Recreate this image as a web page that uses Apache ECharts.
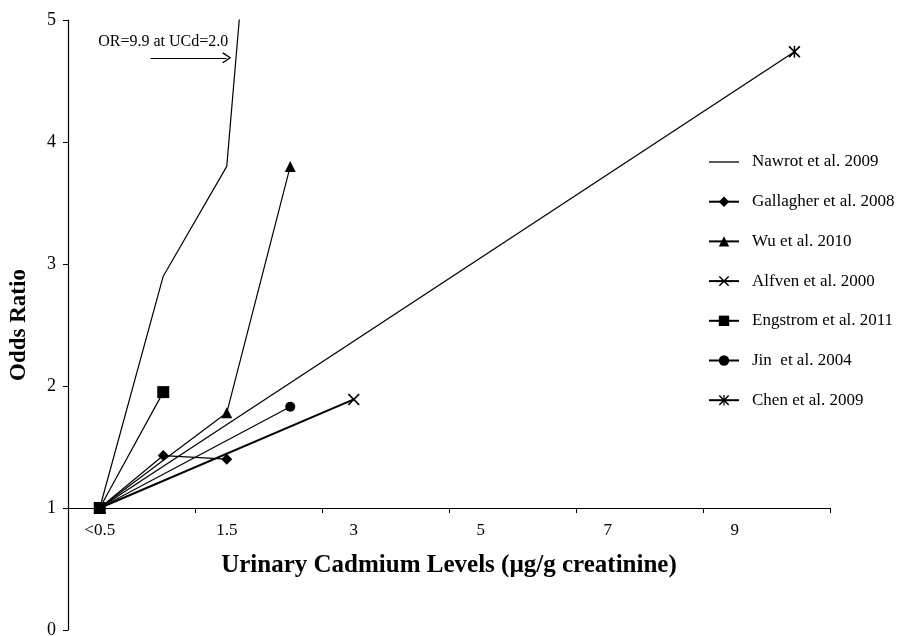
<!DOCTYPE html>
<html><head><meta charset="utf-8">
<script src="https://cdn.jsdelivr.net/npm/echarts@6/dist/echarts.min.js"></script>
<style>html,body{margin:0;background:#fff}#c{width:915px;height:636px}</style>
</head><body><div id="c"></div>
<script>
// x positions are category slots of the original axis: 0 => "<0.5", 1 => "1.5", 2 => "3", ...
const tickLabels = ['<0.5', '1.5', '3', '5', '7', '9'];
const labelPositions = [0, 1, 2, 3, 4, 5];
const tickPositions = [0.75, 1.75, 2.75, 3.75, 4.75, 5.75];
const yTicks = [0, 1, 2, 3, 4, 5];

const nawrot    = [[0, 1], [0.5, 2.9], [1, 3.8], [1.5, 9.9]];
const gallagher = [[0, 1], [0.5, 1.43], [1, 1.40]];
const wu        = [[0, 1], [1, 1.78], [1.5, 3.8]];
const alfven    = [[0, 1], [2, 1.89]];
const engstrom  = [[0, 1], [0.5, 1.95]];
const jin       = [[0, 1], [1.5, 1.83]];
const chen      = [[0, 1], [5.47, 4.74]];
const arrowLine = [[0.4, 4.69], [1.0, 4.69]];
const annotationPos = [0.5, 4.82];
const annotation = 'OR=9.9 at UCd=2.0';

const FONT = 'Liberation Serif';
const X_PATH = 'path://M0,1 L1,0 L5,4 L9,0 L10,1 L6,5 L10,9 L9,10 L5,6 L1,10 L0,9 L4,5 Z';
const STAR_PATH = 'path://M0,1 L1,0 L5,4 L9,0 L10,1 L6,5 L10,9 L9,10 L5,6 L1,10 L0,9 L4,5 Z M4.4,0 L5.6,0 L5.6,10 L4.4,10 Z';
const OPEN_ARROW = 'path://M5,0 L10,8 L9,9 L5,2.2 L1,9 L0,8 Z';
const PLAIN_LINE = 'path://M0,0 L30,0 L30,1.3 L0,1.3 Z';

function mk(name, data, symbol, size, width, z) {
  return {
    name, type: 'line', data, symbol, symbolSize: size,
    showSymbol: symbol !== 'none',
    lineStyle: { color: '#000', width: width || 1.2 },
    itemStyle: { color: '#000' },
    emphasis: { disabled: true },
    animation: false,
    clip: true,
    z: z || 2
  };
}

const series = [
  mk('Nawrot et al. 2009', nawrot, 'none', 0, 1.2),
  mk('Gallagher et al. 2008', gallagher, 'diamond', 11, 1.2),
  mk('Wu et al. 2010', wu, 'triangle', 11, 1.2),
  mk('Alfven et al. 2000', alfven, X_PATH, 12, 2),
  mk('Engstrom et al. 2011', engstrom, 'rect', 12, 1.2, 4),
  mk('Jin  et al. 2004', jin, 'circle', 10, 1.2),
  mk('Chen et al. 2009', chen, STAR_PATH, 12, 1.3)
];
series[0].markLine = {
  silent: true,
  symbol: ['none', OPEN_ARROW],
  symbolSize: [11, 9],
  lineStyle: { color: '#000', width: 1.2, type: 'solid' },
  label: { show: false },
  data: [[{ coord: arrowLine[0] }, { coord: arrowLine[1] }]],
  animation: false
};
series[0].markPoint = {
  silent: true,
  symbol: 'circle', symbolSize: 1,
  itemStyle: { color: 'rgba(0,0,0,0)' },
  label: {
    show: true, formatter: annotation, position: 'inside',
    color: '#000', fontFamily: FONT, fontSize: 16
  },
  data: [{ coord: annotationPos }],
  animation: false
};

const legendData = series.map((s, i) => i === 0 ? { name: s.name, icon: PLAIN_LINE } : { name: s.name });

const chart = echarts.init(document.getElementById('c'));
chart.setOption({
  backgroundColor: '#fff',
  animation: false,
  grid: { left: 68, right: 85, top: 20, bottom: 6, outerBoundsMode: 'none', containLabel: false },
  legend: {
    orient: 'vertical', left: 703, top: 148,
    itemWidth: 30, itemHeight: 13, itemGap: 21.7,
    textStyle: { fontFamily: FONT, fontSize: 17, lineHeight: 18, color: '#000', padding: [0, 0, 0, 8] },
    data: legendData
  },
  xAxis: {
    type: 'value', min: -0.25, max: 5.75, offset: -122,
    name: 'Urinary Cadmium Levels (µg/g creatinine)',
    nameLocation: 'middle', nameGap: 45,
    nameTextStyle: { fontFamily: FONT, fontSize: 25, fontWeight: 'bold', color: '#000' },
    axisLine: { show: true, onZero: false, lineStyle: { color: '#000', width: 1.2 } },
    axisTick: { show: true, length: 5, inside: false, customValues: tickPositions, lineStyle: { color: '#000' } },
    axisLabel: {
      customValues: labelPositions, margin: 14,
      formatter: v => tickLabels[labelPositions.indexOf(Math.round(v))] ?? '',
      fontFamily: FONT, fontSize: 17, color: '#000'
    },
    splitLine: { show: false }
  },
  yAxis: {
    type: 'value', min: 0, max: 5, interval: 1,
    name: 'Odds Ratio', nameLocation: 'middle', nameGap: 37,
    nameTextStyle: { fontFamily: FONT, fontSize: 23, fontWeight: 'bold', color: '#000' },
    axisLine: { show: true, onZero: false, lineStyle: { color: '#000', width: 1.2 } },
    axisTick: { show: true, length: 5, lineStyle: { color: '#000' } },
    axisLabel: { fontFamily: FONT, fontSize: 18, color: '#000', margin: 12,
      formatter: v => String(yTicks[yTicks.indexOf(v)]) },
    splitLine: { show: false }
  },
  series
});
</script></body></html>
